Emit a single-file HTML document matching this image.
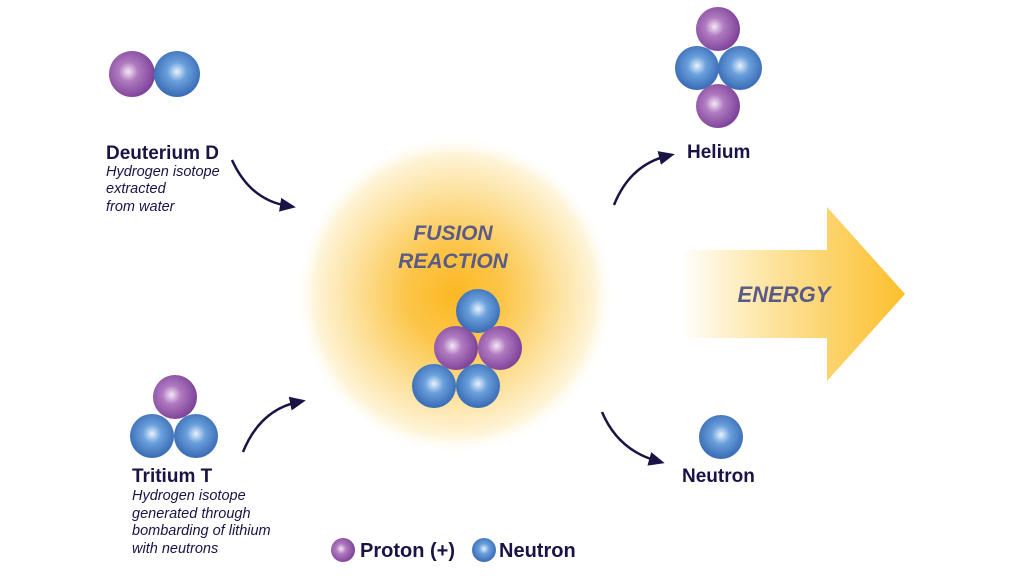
<!DOCTYPE html>
<html><head><style>
body{margin:0;width:1024px;height:576px;background:#fff;overflow:hidden}
svg{display:block}
text{font-family:"Liberation Sans",sans-serif}
</style></head><body>
<svg width="1024" height="576" viewBox="0 0 1024 576">
<defs>
<radialGradient id="p" cx="0.42" cy="0.45" r="0.6">
<stop offset="0" stop-color="#f4e8f6"/><stop offset="0.35" stop-color="#b07ac0"/><stop offset="1" stop-color="#7a3f96"/></radialGradient>
<radialGradient id="b" cx="0.5" cy="0.45" r="0.6">
<stop offset="0" stop-color="#e8f2fc"/><stop offset="0.35" stop-color="#6aa0dc"/><stop offset="1" stop-color="#2f62ae"/></radialGradient>
<radialGradient id="glow" cx="0.5" cy="0.5" r="0.5">
<stop offset="0" stop-color="#fbb824"/><stop offset="0.3" stop-color="#fcc548"/><stop offset="0.65" stop-color="#fde2a0"/><stop offset="0.88" stop-color="#fef4d8"/><stop offset="1" stop-color="#fff" stop-opacity="0"/></radialGradient>
<linearGradient id="ar" x1="0" x2="1" y1="0" y2="0">
<stop offset="0" stop-color="#fff"/><stop offset="0.4" stop-color="#fde4a0"/><stop offset="1" stop-color="#fbbf2c"/></linearGradient>
<marker id="m" markerWidth="16" markerHeight="16" refX="8" refY="8" orient="auto" markerUnits="userSpaceOnUse" viewBox="0 0 16 16"><path d="M0,1 L16,8 L0,15 Z" fill="#1a1446"/></marker>
</defs>
<circle cx="455" cy="295" r="160" fill="url(#glow)"/>
<path d="M680,250 H827 V207 L905,294 L827,381 V338 H680 Z" fill="url(#ar)"/>
<text x="784" y="302" font-size="22" font-weight="bold" font-style="italic" fill="#5a5a86" text-anchor="middle">ENERGY</text>
<text x="453" y="240" font-size="21" font-weight="bold" font-style="italic" fill="#5a5a86" text-anchor="middle">FUSION</text>
<text x="453" y="268" font-size="21" font-weight="bold" font-style="italic" fill="#5a5a86" text-anchor="middle">REACTION</text>
<g>
<circle cx="132" cy="74" r="23" fill="url(#p)"/><circle cx="177" cy="74" r="23" fill="url(#b)"/>
<circle cx="718" cy="29" r="22" fill="url(#p)"/><circle cx="697" cy="68" r="22" fill="url(#b)"/><circle cx="740" cy="68" r="22" fill="url(#b)"/><circle cx="718" cy="106" r="22" fill="url(#p)"/>
<circle cx="478" cy="311" r="22" fill="url(#b)"/><circle cx="456" cy="348" r="22" fill="url(#p)"/><circle cx="500" cy="348" r="22" fill="url(#p)"/><circle cx="434" cy="386" r="22" fill="url(#b)"/><circle cx="478" cy="386" r="22" fill="url(#b)"/>
<circle cx="175" cy="397" r="22" fill="url(#p)"/><circle cx="152" cy="436" r="22" fill="url(#b)"/><circle cx="196" cy="436" r="22" fill="url(#b)"/>
<circle cx="721" cy="437" r="22" fill="url(#b)"/>
<circle cx="343" cy="550" r="12" fill="url(#p)"/><circle cx="484" cy="550" r="12" fill="url(#b)"/>
</g>
<g fill="none" stroke="#1a1446" stroke-width="2.5" marker-end="url(#m)">
<path d="M232,160 Q250,200 288,206"/>
<path d="M243,452 Q260,410 298,402"/>
<path d="M614,205 Q630,165 667,156"/>
<path d="M602,412 Q618,450 657,461"/>
</g>
<g fill="#1a1446">
<text x="106" y="159" font-size="19" font-weight="bold">Deuterium D</text>
<text x="106" y="176" font-size="14.5" font-style="italic">Hydrogen isotope</text>
<text x="106" y="193" font-size="14.5" font-style="italic">extracted</text>
<text x="106" y="211" font-size="14.5" font-style="italic">from water</text>
<text x="132" y="482" font-size="19" font-weight="bold">Tritium T</text>
<text x="132" y="500" font-size="14.5" font-style="italic">Hydrogen isotope</text>
<text x="132" y="518" font-size="14.5" font-style="italic">generated through</text>
<text x="132" y="535" font-size="14.5" font-style="italic">bombarding of lithium</text>
<text x="132" y="553" font-size="14.5" font-style="italic">with neutrons</text>
<text x="687" y="158" font-size="19" font-weight="bold">Helium</text>
<text x="682" y="482" font-size="19" font-weight="bold">Neutron</text>
<text x="360" y="557" font-size="20" font-weight="bold">Proton (+)</text>
<text x="499" y="557" font-size="20" font-weight="bold">Neutron</text>
</g>
</svg>
</body></html>
